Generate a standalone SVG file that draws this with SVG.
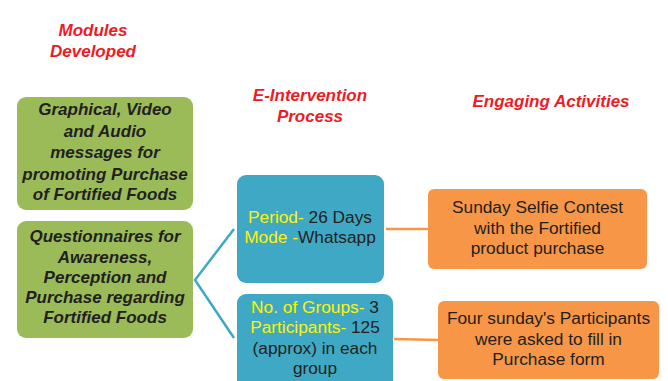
<svg xmlns="http://www.w3.org/2000/svg" width="668" height="381" viewBox="0 0 668 381">
  <style>
    .head { font-family: "Liberation Sans", Arial, sans-serif; font-size: 17px; font-weight: bold; font-style: italic; fill: #ed1c24; text-anchor: middle; }
    .mod { fill: #9bbb59; }
    .mod-t { font-family: "Liberation Sans", Arial, sans-serif; font-size: 17px; font-weight: bold; font-style: italic; fill: #231f20; text-anchor: middle; }
    .proc { fill: #3fa9c5; }
    .act { fill: #f79646; }
    .t { font-family: "Liberation Sans", Arial, sans-serif; font-size: 17.3px; fill: #231f20; text-anchor: middle; }
    .y { fill: #fff200; }
    .blue-link { stroke: #3fa9c5; stroke-width: 2.5; fill: none; }
    .orange-link { stroke: #f79646; stroke-width: 2.5; fill: none; }
  </style>

  <!-- column headings -->
  <g id="headings">
    <text class="head" x="93" y="36">Modules</text>
    <text class="head" x="93" y="57">Developed</text>
    <text class="head" x="310" y="101">E-Intervention</text>
    <text class="head" x="310" y="122">Process</text>
    <text class="head" x="551" y="107">Engaging Activities</text>
  </g>

  <!-- connectors -->
  <g id="connectors">
    <polyline class="blue-link" points="234,229 195,280 234,338"/>
    <line class="orange-link" x1="386" y1="229" x2="428" y2="229"/>
    <line class="orange-link" x1="394" y1="339" x2="438" y2="340"/>
  </g>

  <g id="module-media">
    <rect class="mod" x="17" y="97" width="176" height="113" rx="9"/>
    <text class="mod-t" x="105" y="115">Graphical, Video</text>
    <text class="mod-t" x="105" y="137">and Audio</text>
    <text class="mod-t" x="105" y="158">messages for</text>
    <text class="mod-t" x="105" y="180">promoting Purchase</text>
    <text class="mod-t" x="105" y="200">of Fortified Foods</text>
  </g>

  <g id="module-questionnaires">
    <rect class="mod" x="17" y="221" width="176" height="117" rx="9"/>
    <text class="mod-t" x="105" y="242">Questionnaires for</text>
    <text class="mod-t" x="105" y="263">Awareness,</text>
    <text class="mod-t" x="105" y="283">Perception and</text>
    <text class="mod-t" x="105" y="303">Purchase regarding</text>
    <text class="mod-t" x="105" y="323">Fortified Foods</text>
  </g>

  <g id="process-period">
    <rect class="proc" x="237" y="175" width="147" height="108" rx="9"/>
    <text class="t" x="310" y="223"><tspan class="y">Period-</tspan> 26 Days</text>
    <text class="t" x="310" y="243"><tspan class="y">Mode -</tspan>Whatsapp</text>
  </g>

  <g id="process-groups">
    <rect class="proc" x="237" y="294" width="156" height="95" rx="9"/>
    <text class="t" x="315" y="313"><tspan class="y">No. of Groups-</tspan> 3</text>
    <text class="t" x="315" y="333"><tspan class="y">Participants-</tspan> 125</text>
    <text class="t" x="315" y="354">(approx) in each</text>
    <text class="t" x="315" y="374">group</text>
  </g>

  <g id="activity-selfie">
    <rect class="act" x="428" y="189" width="219" height="80" rx="6"/>
    <text class="t" x="537.5" y="213">Sunday Selfie Contest</text>
    <text class="t" x="537.5" y="234">with the Fortified</text>
    <text class="t" x="537.5" y="254">product purchase</text>
  </g>

  <g id="activity-form">
    <rect class="act" x="438" y="301" width="221" height="78" rx="6"/>
    <text class="t" x="548.5" y="324">Four sunday's Participants</text>
    <text class="t" x="548.5" y="345">were asked to fill in</text>
    <text class="t" x="548.5" y="365">Purchase form</text>
  </g>
</svg>
